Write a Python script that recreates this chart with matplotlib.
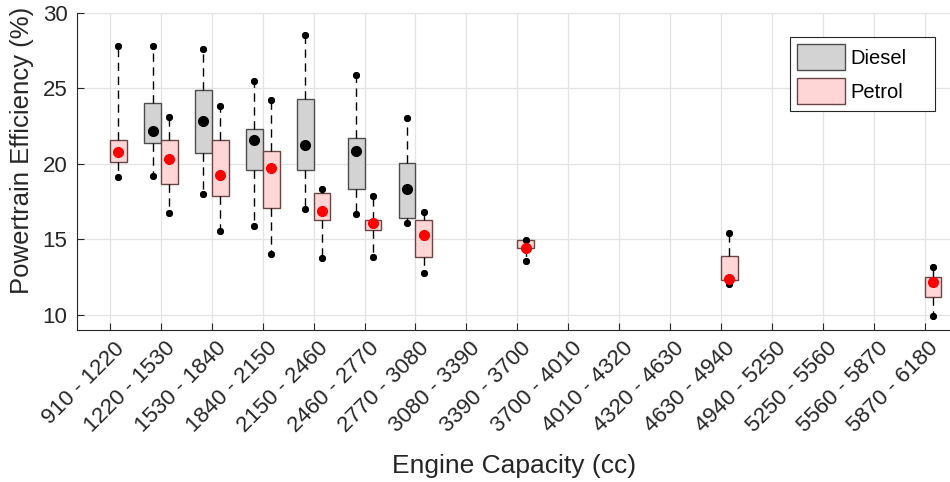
import matplotlib.pyplot as plt
import matplotlib.transforms as mtransforms
from matplotlib.patches import Patch

plt.rcParams['font.family'] = ['Liberation Sans', 'DejaVu Sans']

categories = ['910 - 1220', '1220 - 1530', '1530 - 1840', '1840 - 2150', '2150 - 2460',
              '2460 - 2770', '2770 - 3080', '3080 - 3390', '3390 - 3700', '3700 - 4010',
              '4010 - 4320', '4320 - 4630', '4630 - 4940', '4940 - 5250', '5250 - 5560',
              '5560 - 5870', '5870 - 6180']

# diesel boxes (category index, whisker low, q1, mean, q3, whisker high)
diesel_idx = [1, 2, 3, 4, 5, 6]
diesel_lo = [19.2, 18.0, 15.9, 17.0, 16.7, 16.1]
diesel_q1 = [21.35, 20.7, 19.6, 19.6, 18.35, 16.4]
diesel_mean = [22.15, 22.8, 21.55, 21.25, 20.85, 18.35]
diesel_q3 = [24.0, 24.85, 22.3, 24.3, 21.7, 20.05]
diesel_hi = [27.8, 27.6, 25.45, 28.5, 25.85, 23.0]

# petrol boxes
petrol_idx = [0, 1, 2, 3, 4, 5, 6, 8, 12, 16]
petrol_lo = [19.1, 16.75, 15.55, 14.05, 13.75, 13.8, 12.75, 13.55, 12.05, 9.9]
petrol_q1 = [20.1, 18.65, 17.9, 17.1, 16.3, 15.6, 13.85, 14.4, 12.3, 11.2]
petrol_mean = [20.75, 20.3, 19.25, 19.7, 16.9, 16.1, 15.3, 14.4, 12.4, 12.2]
petrol_q3 = [21.6, 21.55, 21.55, 20.85, 18.05, 16.3, 16.3, 14.95, 13.9, 12.5]
petrol_hi = [27.8, 23.1, 23.85, 24.2, 18.3, 17.9, 16.8, 14.95, 15.4, 13.2]

fig = plt.figure(figsize=(9.5, 4.82), dpi=100)
ax = fig.add_axes([0.0814, 0.3154, 0.9186, 0.6583])

offset = 0.165
width = 0.33


def draw(idx, lo, q1, mean, q3, hi, shift, face, edge, dot):
    stats = []
    for a, b, m, c, d in zip(lo, q1, mean, q3, hi):
        stats.append(dict(whislo=a, q1=b, med=m, mean=m, q3=c, whishi=d, fliers=[]))
    pos = [i + shift for i in idx]
    ax.bxp(stats, positions=pos, widths=width, patch_artist=True, showmeans=True,
           showfliers=False, capwidths=0, manage_ticks=False,
           boxprops=dict(facecolor=face, edgecolor=edge, linewidth=1.0),
           whiskerprops=dict(color='black', linestyle=(0, (6, 4)), linewidth=1.0),
           capprops=dict(color='black', marker='o', markersize=4, linestyle='none'),
           medianprops=dict(linewidth=0),
           meanprops=dict(marker='o', markerfacecolor=dot, markeredgecolor=dot,
                          markersize=7),
           zorder=3)


draw(diesel_idx, diesel_lo, diesel_q1, diesel_mean, diesel_q3, diesel_hi,
     -offset, '#d3d3d3', '#4d4d4d', 'black')
draw(petrol_idx, petrol_lo, petrol_q1, petrol_mean, petrol_q3, petrol_hi,
     offset, '#ffd6d6', '#6b4444', 'red')

ax.set_xlim(-0.642, 16.5)
ax.set_ylim(9, 30)
ax.set_xticks(range(len(categories)))
ax.set_xticklabels(categories, rotation=45, ha='right', va='center',
                   rotation_mode='anchor')
ax.set_yticks([10, 15, 20, 25, 30])
ax.tick_params(axis='both', direction='in', length=5, labelsize=16,
               colors='#262626', width=0.8)
ax.tick_params(axis='x', pad=9)
ax.tick_params(axis='y', pad=7)
# nudge the rotated labels right so their ends sit past the ticks
shift = mtransforms.ScaledTranslation(11 / 100, -3 / 100, fig.dpi_scale_trans)
for lab in ax.get_xticklabels():
    lab.set_transform(lab.get_transform() + shift)
ax.grid(True, color='#e3e3e3', linewidth=0.9)
ax.set_axisbelow(True)
for s in ['top', 'right']:
    ax.spines[s].set_visible(False)
for s in ['left', 'bottom']:
    ax.spines[s].set_color('#262626')
    ax.spines[s].set_linewidth(0.8)

ax.set_xlabel('Engine Capacity (cc)', fontsize=19, color='#262626', labelpad=12)
ax.set_ylabel('Powertrain Efficiency (%)', fontsize=18.5, color='#262626')
ax.yaxis.set_label_coords(-0.0495, 0.567)

handles = [Patch(facecolor='#d3d3d3', edgecolor='#4d4d4d', label='Diesel'),
           Patch(facecolor='#ffd6d6', edgecolor='#6b4444', label='Petrol')]
leg = ax.legend(handles=handles, loc='upper left',
                bbox_to_anchor=(0.8167, 0.5, 0.166, 0.423), mode='expand',
                borderaxespad=0, fontsize=14.5, handlelength=2.4, handleheight=1.6,
                handletextpad=0.25, labelspacing=0.4, fancybox=False, framealpha=1,
                edgecolor='#262626', borderpad=0.35)
leg.get_frame().set_linewidth(0.8)

fig.savefig('out.png', dpi=100)
